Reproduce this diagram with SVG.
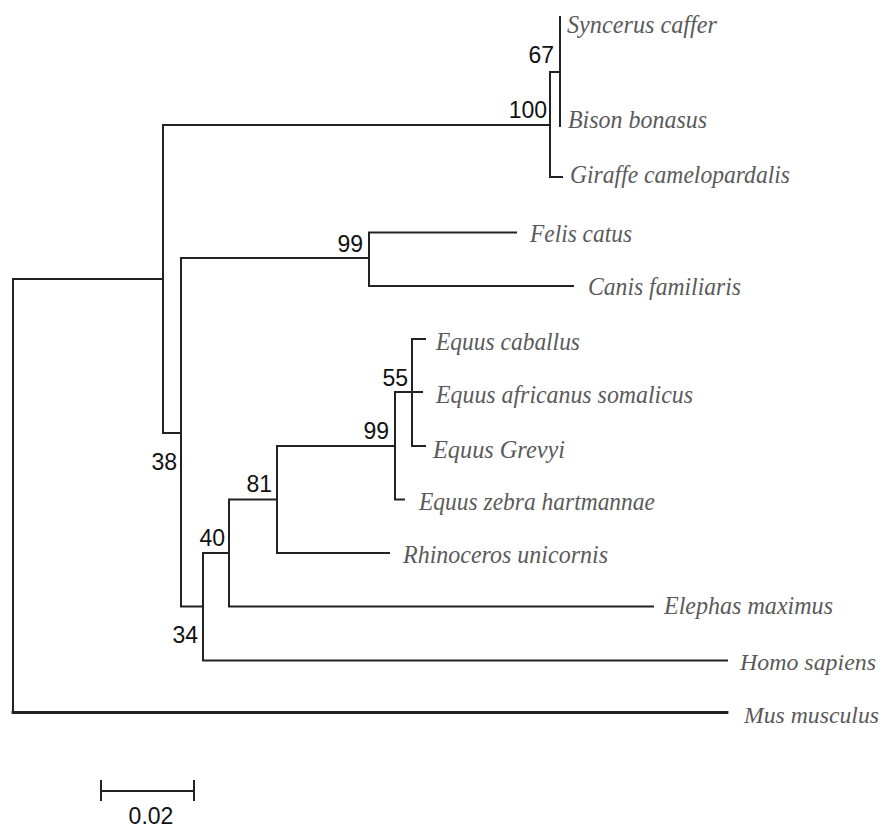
<svg xmlns="http://www.w3.org/2000/svg" width="887" height="830" viewBox="0 0 887 830">
<style>
.br{fill:none;stroke:#222;stroke-width:2;stroke-linecap:square}
.thick{stroke-width:2.8}
.tx{font-family:"Liberation Serif","Times New Roman",serif;font-style:italic;font-size:26px;fill:#5a5a5a}
.sm{font-size:24px}
.bs{font-family:"Liberation Sans",Arial,sans-serif;font-size:23px;fill:#111;text-anchor:end}
</style>
<rect width="887" height="830" fill="#fff"/>
<g id="connectors">
<path class="br" d="M560,17 V126 M550,72 H560"/>
<path class="br" d="M550,72 V177 H562"/>
<path class="br" d="M550,125 H163 V433 H181"/>
<path class="br" d="M369,258 H181 V606.5 H203"/>
<path class="br" d="M516,232.5 H369 V286 H573"/>
<path class="br" d="M229,553 H203 V660.5 H727"/>
<path class="br" d="M277,499.5 H229 V606.5 H653"/>
<path class="br" d="M395,446 H277 V553 H389"/>
<path class="br" d="M412,392 H395 V499.5 H404"/>
<path class="br" d="M425,339 H412 V446 H425 M412,392 H422"/>
<path class="br" d="M163,279 H13 V712"/>
<path class="br thick" d="M13,712.5 H727"/>
</g>
<g id="leaf-syncerus"><text class="tx" x="567" y="33" textLength="150" lengthAdjust="spacingAndGlyphs">Syncerus caffer</text></g>
<g id="leaf-bison"><text class="tx" x="568" y="128" textLength="139" lengthAdjust="spacingAndGlyphs">Bison bonasus</text></g>
<g id="leaf-giraffe"><text class="tx" x="570" y="183" textLength="220" lengthAdjust="spacingAndGlyphs">Giraffe camelopardalis</text></g>
<g id="leaf-felis"><text class="tx" x="530" y="242" textLength="102" lengthAdjust="spacingAndGlyphs">Felis catus</text></g>
<g id="leaf-canis"><text class="tx" x="588" y="295" textLength="153" lengthAdjust="spacingAndGlyphs">Canis familiaris</text></g>
<g id="leaf-caballus"><text class="tx" x="436" y="350" textLength="144" lengthAdjust="spacingAndGlyphs">Equus caballus</text></g>
<g id="leaf-africanus"><text class="tx" x="436" y="403" textLength="257" lengthAdjust="spacingAndGlyphs">Equus africanus somalicus</text></g>
<g id="leaf-grevyi"><text class="tx" x="433" y="458" textLength="132" lengthAdjust="spacingAndGlyphs">Equus Grevyi</text></g>
<g id="leaf-zebra"><text class="tx" x="419" y="510" textLength="236" lengthAdjust="spacingAndGlyphs">Equus zebra hartmannae</text></g>
<g id="leaf-rhinoceros"><text class="tx" x="403" y="563" textLength="205" lengthAdjust="spacingAndGlyphs">Rhinoceros unicornis</text></g>
<g id="leaf-elephas"><text class="tx" x="664" y="614" textLength="169" lengthAdjust="spacingAndGlyphs">Elephas maximus</text></g>
<g id="leaf-homo"><text class="tx sm" x="740" y="670" textLength="136" lengthAdjust="spacingAndGlyphs">Homo sapiens</text></g>
<g id="leaf-mus"><text class="tx sm" x="744" y="723" textLength="135" lengthAdjust="spacingAndGlyphs">Mus musculus</text></g>
<g id="node-67"><text class="bs" x="554" y="63">67</text></g>
<g id="node-100"><text class="bs" x="547" y="118">100</text></g>
<g id="node-99a"><text class="bs" x="363" y="252">99</text></g>
<g id="node-55"><text class="bs" x="408" y="386">55</text></g>
<g id="node-99b"><text class="bs" x="389" y="439">99</text></g>
<g id="node-81"><text class="bs" x="272" y="492">81</text></g>
<g id="node-40"><text class="bs" x="225" y="546">40</text></g>
<g id="node-38"><text class="bs" x="177" y="470">38</text></g>
<g id="node-34"><text class="bs" x="198" y="643">34</text></g>
<g id="scale-bar">
<path class="br" d="M101,791 H194 M101,781 V800 M194,781 V800"/>
<text x="151" y="824" font-family="Liberation Sans,Arial,sans-serif" font-size="23" fill="#111" text-anchor="middle">0.02</text>
</g>
</svg>
